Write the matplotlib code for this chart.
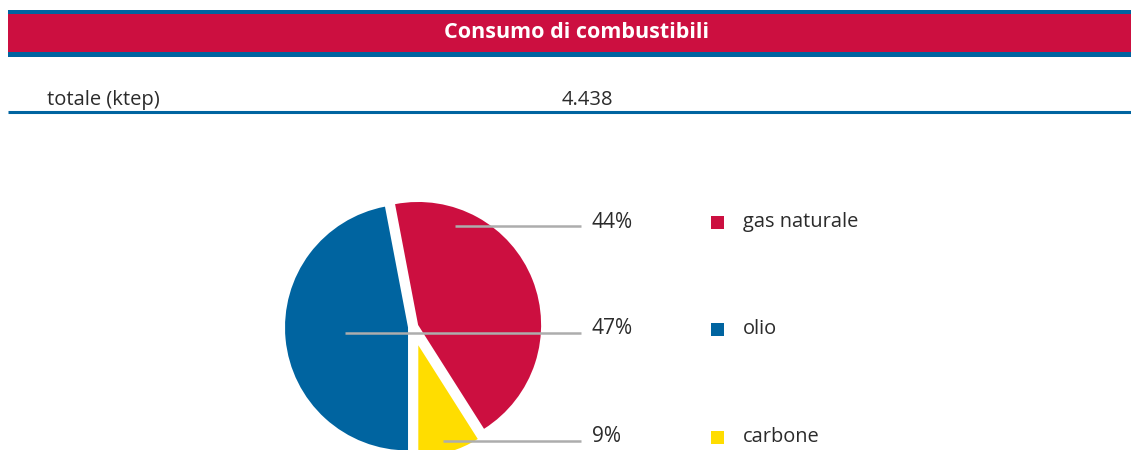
## Importing necessary libraries ##

import matplotlib.pyplot as plt
from matplotlib.patches import Rectangle

## Data ##

title = 'Consumo di combustibili'
total_label = 'totale (ktep)'
total_value = '4.438'

# pie order: counter-clockwise starting from the bottom
fuels = ['carbone', 'gas naturale', 'olio']
shares = [9, 44, 47]

# legend / label order top to bottom
legend_order = ['gas naturale', 'olio', 'carbone']

colors = {'gas naturale': '#CC0F40', 'olio': '#0064A0', 'carbone': '#FFDD00'}
# explode offsets are in axes units (pixels here), not fractions of radius
explode = {'carbone': 19, 'gas naturale': 5.5, 'olio': 5}

W, H = 1131, 450
band_blue = '#0064A0'
text_col = '#2b2b2b'
line_gray = '#ADADAD'
font = ['Open Sans', 'DejaVu Sans']


def Y(py):
    ## convert a pixel row (top = 0) to the y-up axes coordinate ##
    return H - py


fig = plt.figure(figsize=(W / 100, H / 100), dpi=100)
ax = fig.add_axes([0, 0, 1, 1])

## Header band ##

ax.add_patch(Rectangle((8, Y(57)), W - 8, 47, color=band_blue, lw=0))
ax.add_patch(Rectangle((8, Y(52)), W - 8, 38, color='#CC0F40', lw=0))
ax.text(577, Y(32), title, color='white', fontsize=15.5, fontweight='bold',
        family=font, ha='center', va='center')

## Total row ##

ax.text(47, Y(100), total_label, color=text_col, fontsize=14.5,
        family=font, ha='left', va='center')
ax.text(587, Y(100), total_value, color=text_col, fontsize=14.5,
        family=font, ha='center', va='center')
ax.plot([8, W], [Y(112), Y(112)], color=band_blue, lw=2.2, solid_capstyle='butt')

## Pie ##

wedges, _ = ax.pie(shares, colors=[colors[f] for f in fuels],
                   explode=[explode[f] for f in fuels],
                   startangle=-90, counterclock=True,
                   center=(413, Y(327)), radius=123, frame=True,
                   wedgeprops=dict(linewidth=0))
# the small slice is drawn a bit shorter than the others
wedges[fuels.index('carbone')].set_radius(111)
ax.set_xlim(0, W)
ax.set_ylim(0, H)
ax.set_aspect('equal')
ax.axis('off')

## Leader lines, percentages and legend ##

row_y = {'gas naturale': 226, 'olio': 333, 'carbone': 441}
line_start = {'gas naturale': 455, 'olio': 345, 'carbone': 443}

for name in legend_order:
    val = shares[fuels.index(name)]
    y = row_y[name]
    ax.plot([line_start[name], 581], [Y(y), Y(y)], color=line_gray, lw=1.8,
            solid_capstyle='butt')
    ax.text(592, Y(y - 4), f'{val}%', color=text_col, fontsize=15,
            family=font, ha='left', va='center')
    ax.add_patch(Rectangle((711, Y(y + 3)), 13, 13, color=colors[name], lw=0))
    ax.text(743, Y(y - 4), name, color=text_col, fontsize=14.4,
            family=font, ha='left', va='center')

fig.savefig('out.png', dpi=100)
